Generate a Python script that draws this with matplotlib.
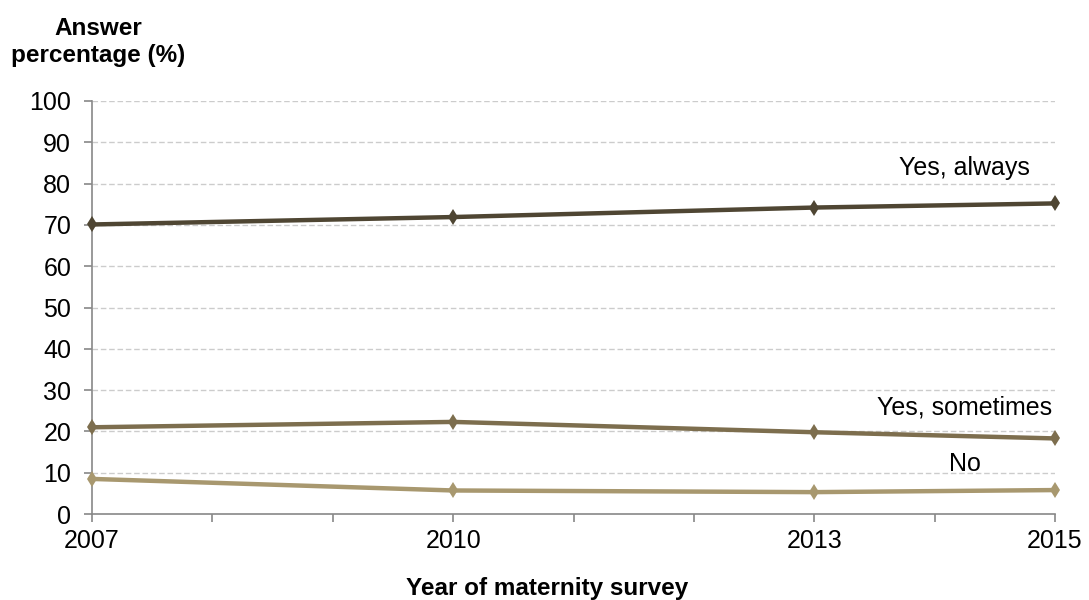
import matplotlib.pyplot as plt

plt.rcParams['font.family'] = ['Liberation Sans', 'DejaVu Sans']

years = [2007, 2010, 2013, 2015]
always = [70.1, 71.9, 74.2, 75.2]
sometimes = [21.0, 22.3, 19.8, 18.3]
no = [8.5, 5.7, 5.3, 5.8]

series = [
    ("Yes, always", always, "#4f4633", 83.8),
    ("Yes, sometimes", sometimes, "#7d6e4e", 25.9),
    ("No", no, "#a8986f", 12.2),
]

tick_years = list(range(2007, 2016))
tick_labels = [str(y) if y in years else "" for y in tick_years]

fig = plt.figure(figsize=(10.89, 6.0), dpi=100)
ax = fig.add_axes([0.0845, 0.1433, 0.8843, 0.6884])

for name, vals, col, ly in series:
    ax.plot(years, vals, color=col, lw=3.2, marker='d', ms=8, mew=0, zorder=3,
            clip_on=False)
    ax.text(2014.25, ly, name, ha='center', va='center', fontsize=18, color='black')

ax.set_xlim(2007, 2015)
ax.set_ylim(0, 100)
ax.set_yticks(range(0, 101, 10))
ax.set_xticks(tick_years)
ax.set_xticklabels(tick_labels)
ax.tick_params(axis='both', labelsize=18, color='#888888', length=6, width=1.2)
ax.tick_params(axis='y', pad=9)
ax.tick_params(axis='x', pad=5)

for y in range(10, 101, 10):
    ax.axhline(y, color='#cccccc', lw=1, ls=(0, (4, 2)), zorder=1)

for s in ['top', 'right']:
    ax.spines[s].set_visible(False)
for s in ['left', 'bottom']:
    ax.spines[s].set_color('#888888')
    ax.spines[s].set_linewidth(1.2)

fig.text(0.09, 0.93, "Answer\npercentage (%)", ha='center', va='center',
         fontsize=17.5, fontweight='bold', linespacing=1.25)
fig.text(0.502, 0.02, "Year of maternity survey", ha='center', va='center',
         fontsize=17.5, fontweight='bold')

fig.savefig("out.png", dpi=100)
